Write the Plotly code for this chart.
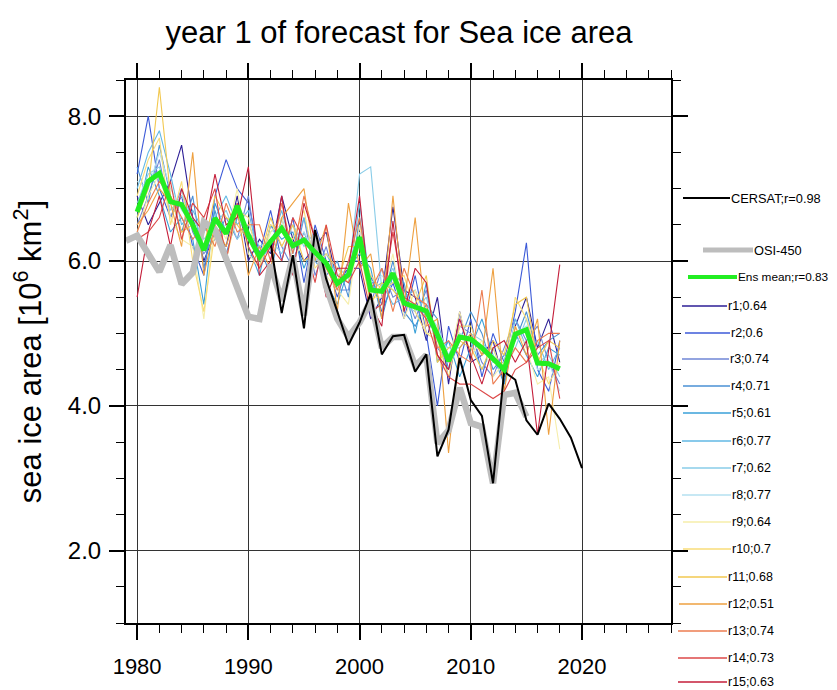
import plotly.graph_objects as go

# ---------------- data ----------------
osi_years = list(range(1979, 2016))
osi450 = [6.28, 6.35, 6.10, 5.85, 6.22, 5.68, 5.84, 6.54, 6.43, 6.03,
          5.62, 5.23, 5.20, 5.95, 5.45, 6.05, 5.25, 6.35, 5.65, 5.20,
          4.95, 5.15, 5.45, 4.80, 4.95, 4.95, 4.55, 4.70, 3.48, 3.66,
          4.25, 3.76, 3.71, 2.93, 4.15, 4.18, 3.85]

cersat_years = list(range(1992, 2021))
cersat = [6.25, 5.28, 6.08, 5.07, 6.43, 5.75, 5.30, 4.84, 5.15, 5.55,
          4.71, 4.96, 4.98, 4.47, 4.71, 3.30, 3.67, 4.66, 4.08, 3.86,
          2.93, 4.47, 4.36, 3.80, 3.60, 4.03, 3.82, 3.56, 3.14]

ens_years = list(range(1980, 2019))
ens_mean = [6.68, 7.10, 7.21, 6.82, 6.78, 6.50, 6.15, 6.59, 6.38, 6.76,
            6.35, 6.06, 6.27, 6.45, 6.21, 6.29, 6.12, 5.97, 5.69, 5.81,
            6.33, 5.60, 5.58, 5.83, 5.42, 5.37, 5.31, 4.98, 4.62, 4.95,
            4.92, 4.80, 4.66, 4.50, 4.99, 5.05, 4.59, 4.58, 4.51]

r1 = [6.9, 6.5, 6.8, 7.1, 7.6, 6.6, 6.0, 6.4, 6.2, 6.9,
      6.0, 6.3, 6.1, 6.9, 6.3, 6.0, 6.2, 6.4, 5.7, 5.9,
      5.9, 5.2, 5.5, 6.75, 5.6, 5.5, 4.9, 5.5, 4.3, 5.3,
      4.6, 4.7, 4.9, 4.3, 5.1, 5.5, 4.8, 5.2, 4.6]
r2 = [7.2, 8.0, 7.0, 6.6, 6.9, 6.2, 5.8, 6.9, 7.4, 7.0,
      6.8, 6.1, 6.7, 6.0, 6.6, 5.7, 6.5, 6.0, 5.5, 6.0,
      6.0, 5.8, 5.3, 5.7, 5.2, 5.8, 5.0, 4.0, 5.1, 4.6,
      5.2, 4.4, 5.0, 4.6, 5.3, 6.25, 4.5, 4.2, 4.9]
r3 = [6.5, 6.9, 7.4, 6.6, 7.0, 6.4, 6.1, 6.3, 6.6, 6.3,
      6.9, 5.9, 6.5, 6.2, 5.9, 6.6, 5.8, 6.2, 5.6, 5.6,
      6.5, 5.4, 5.9, 5.5, 5.6, 5.2, 5.6, 4.8, 4.6, 5.1,
      5.0, 4.6, 4.4, 4.8, 5.2, 4.9, 5.1, 4.6, 4.3]
r4 = [7.3, 6.8, 7.6, 6.9, 6.4, 6.9, 5.9, 6.7, 6.1, 6.6,
      6.4, 6.2, 5.8, 6.6, 6.0, 6.4, 6.0, 5.8, 6.0, 5.5,
      6.6, 5.7, 5.4, 6.0, 5.3, 5.1, 5.4, 5.2, 4.5, 4.9,
      5.3, 5.0, 4.5, 4.7, 4.9, 5.3, 4.7, 4.9, 5.0]
r5 = [6.6, 7.3, 6.9, 6.4, 6.6, 6.3, 5.4, 6.8, 6.4, 6.8,
      6.2, 5.8, 6.5, 6.3, 6.4, 5.9, 6.3, 5.7, 5.4, 5.9,
      6.1, 5.9, 5.2, 5.8, 5.7, 5.0, 5.7, 4.6, 4.9, 4.4,
      4.8, 5.2, 4.7, 4.3, 5.0, 4.7, 4.4, 4.8, 4.7]
r6 = [7.0, 7.5, 7.8, 7.2, 6.5, 6.7, 6.4, 6.6, 6.9, 6.5,
      6.7, 6.0, 6.2, 6.7, 6.1, 6.6, 6.0, 6.1, 5.8, 5.7,
      6.8, 5.6, 5.7, 5.4, 5.5, 5.6, 5.2, 5.0, 4.7, 5.0,
      4.9, 4.5, 4.8, 4.4, 5.2, 4.8, 4.9, 4.5, 4.8]
r7 = [6.8, 7.2, 7.3, 6.7, 6.9, 6.6, 6.3, 6.5, 6.7, 6.3,
      6.5, 6.2, 6.3, 6.1, 6.5, 6.2, 6.4, 5.9, 5.9, 5.8,
      7.2, 7.3, 5.6, 5.9, 5.4, 5.3, 5.5, 4.9, 4.8, 4.8,
      5.0, 4.9, 4.6, 4.6, 4.8, 5.2, 4.6, 4.7, 4.4]
r8 = [7.1, 7.0, 7.5, 7.0, 6.7, 6.5, 6.2, 6.4, 6.5, 6.6,
      6.4, 6.1, 6.4, 6.5, 6.2, 6.4, 6.1, 6.0, 5.8, 5.9,
      6.4, 5.7, 5.8, 5.6, 5.5, 5.4, 5.3, 5.1, 4.7, 5.0,
      4.9, 4.8, 4.7, 4.5, 5.0, 5.1, 4.5, 4.6, 4.2]
r9 = [6.4, 6.9, 7.2, 6.6, 6.3, 6.2, 5.2, 6.6, 6.3, 7.0,
      6.1, 5.9, 6.4, 6.6, 6.0, 6.3, 6.2, 5.8, 5.6, 5.4,
      6.5, 5.5, 5.5, 6.1, 5.2, 5.6, 5.0, 5.0, 4.6, 5.3,
      4.7, 4.9, 4.4, 4.6, 5.1, 4.8, 4.3, 4.4, 3.4]
r10 = [6.9, 7.4, 7.7, 6.5, 7.1, 6.0, 5.3, 6.4, 6.0, 6.7,
       6.6, 5.9, 6.5, 6.4, 6.3, 6.7, 5.9, 6.1, 5.9, 5.7,
       6.3, 5.8, 5.6, 5.7, 5.8, 5.3, 5.0, 4.9, 4.4, 5.1,
       5.1, 4.7, 4.8, 4.4, 5.5, 5.2, 4.7, 4.3, 4.6]
r11 = [6.6, 7.0, 8.4, 6.9, 6.4, 6.5, 6.2, 6.9, 6.6, 6.5,
       6.3, 6.0, 6.6, 6.2, 6.5, 6.0, 6.1, 5.9, 5.7, 6.2,
       6.2, 5.4, 5.7, 5.6, 5.4, 5.4, 5.8, 4.6, 4.8, 4.9,
       4.8, 4.5, 4.9, 4.7, 5.4, 5.5, 4.6, 4.9, 4.8]
r12 = [6.5, 6.7, 7.0, 6.8, 6.2, 7.5, 5.8, 6.5, 6.2, 6.7,
       5.8, 6.2, 5.9, 6.6, 6.8, 7.0, 6.0, 6.5, 5.3, 6.8,
       5.9, 6.1, 5.2, 6.9, 5.4, 6.6, 5.1, 5.2, 3.35, 4.8,
       5.0, 4.7, 5.9, 4.2, 5.1, 4.7, 5.2, 3.6, 4.9]
r13 = [6.4, 6.8, 7.1, 6.9, 6.6, 6.3, 6.5, 6.2, 6.8, 6.4,
       6.5, 6.5, 6.0, 6.8, 6.1, 6.9, 6.3, 5.9, 5.6, 6.0,
       6.6, 5.6, 5.9, 5.3, 5.9, 5.5, 5.4, 4.8, 4.9, 4.7,
       4.6, 5.6, 4.3, 4.5, 4.8, 4.6, 4.9, 5.0, 5.0]
r14 = [6.3, 6.4, 6.6, 7.1, 6.3, 6.8, 6.6, 7.0, 6.0, 6.8,
       6.2, 5.9, 6.2, 6.0, 6.6, 6.3, 5.7, 6.5, 5.8, 5.7,
       6.0, 5.3, 5.4, 6.4, 5.5, 5.4, 5.2, 4.7, 4.4, 4.3,
       4.3, 4.2, 4.1, 4.2, 4.5, 4.6, 4.8, 4.9, 4.1]
r15 = [5.5, 6.4, 6.9, 6.2, 7.0, 6.6, 6.4, 7.2, 6.5, 6.6,
       7.3, 5.8, 6.0, 6.9, 5.8, 6.8, 6.3, 5.5, 5.9, 5.9,
       6.9, 5.4, 5.1, 6.55, 5.3, 5.9, 5.7, 4.7, 4.5, 5.2,
       4.7, 4.3, 4.8, 4.9, 4.6, 4.9, 3.6, 4.8, 5.95]

member_names = ["r1", "r2", "r3", "r4", "r5", "r6", "r7", "r8",
                "r9", "r10", "r11", "r12", "r13", "r14", "r15"]
member_corr = ["0.64", "0.6", "0.74", "0.71", "0.61", "0.77", "0.62", "0.77",
               "0.64", "0.7", "0.68", "0.51", "0.74", "0.73", "0.63"]
members = [r1, r2, r3, r4, r5, r6, r7, r8, r9, r10, r11, r12, r13, r14, r15]

x_ticks = [1980, 1990, 2000, 2010, 2020]
y_ticks = [2.0, 4.0, 6.0, 8.0]

# ---------------- styles ----------------
member_colors = ["#2d1e96", "#3c5ad8", "#6f86d6", "#4a90d4", "#3aa0d8",
                 "#62b8e4", "#88cce8", "#b4e0f0", "#f6eeaa", "#f8dc78",
                 "#f2c850", "#eea040", "#ec7c50", "#dc4848", "#c41e3a"]
FONT = "Liberation Sans, Arial, Helvetica, sans-serif"

fig = go.Figure()
for name, vals, col in zip(member_names, members, member_colors):
    fig.add_trace(go.Scatter(x=ens_years, y=vals, mode="lines", name=name,
                             line=dict(color=col, width=1.1), showlegend=False))
fig.add_trace(go.Scatter(x=osi_years, y=osi450, mode="lines", name="OSI-450",
                         line=dict(color="#bdbdbd", width=6.5), showlegend=False))
fig.add_trace(go.Scatter(x=cersat_years, y=cersat, mode="lines", name="CERSAT",
                         line=dict(color="black", width=2), showlegend=False))
fig.add_trace(go.Scatter(x=ens_years, y=ens_mean, mode="lines", name="Ens mean",
                         line=dict(color="#22ee22", width=5), showlegend=False))

# page has an 8px body margin: work in screen pixels, convert to figure pixels
OFF = 8
SW, SH = 837, 690
W, H = SW - OFF, SH - OFF
PL, PR, PT, PB = 126, 671, 80, 623   # plot area in screen pixels


def px(x):
    return (x - PL) / (PR - PL)


def py(y):
    return (PB - y) / (PB - PT)


axis_common = dict(showline=True, linecolor="black", linewidth=2, mirror="allticks",
                   ticks="outside", ticklen=15, tickwidth=1.5, tickcolor="black",
                   showgrid=True, gridcolor="#333333", gridwidth=1, zeroline=False)

fig.update_xaxes(range=[1979, 2028], tickvals=x_ticks, ticktext=[str(v) for v in x_ticks],
                 tickfont=dict(family=FONT, size=22, color="black"), ticklabelstandoff=8,
                 minor=dict(dtick=2, tick0=1980, ticks="outside", ticklen=8,
                            tickcolor="black", tickwidth=1.2, showgrid=False),
                 **axis_common)
fig.update_yaxes(range=[1.0, 8.5], tickvals=y_ticks, ticktext=[f"{v:.1f}" for v in y_ticks],
                 tickfont=dict(family=FONT, size=24, color="black"), ticklabelstandoff=3,
                 minor=dict(dtick=0.5, tick0=0, ticks="outside", ticklen=8,
                            tickcolor="black", tickwidth=1.2, showgrid=False),
                 title=dict(text="sea ice area [10<sup>6</sup> km<sup>2</sup>]",
                            font=dict(family=FONT, size=31, color="black"), standoff=18),
                 **axis_common)

# manual legend (NCL-style)
legend_items = [
    ("CERSAT;r=0.98", "black", 2, 198, 683, 730, 12.8),
    ("OSI-450", "#bdbdbd", 5, 250, 703, 753, 12.8),
    ("Ens mean;r=0.83", "#22ee22", 4, 277, 688, 737, 11.8),
]
member_rows = [306, 333, 359, 386, 413, 441, 468, 495, 522, 549, 577, 604, 631, 658, 682]
member_x = [(682, 727), (685, 730), (682, 729), (683, 730), (683, 731), (682, 731),
            (682, 731), (682, 731), (683, 731), (683, 731), (678, 727), (679, 727),
            (678, 727), (678, 727), (678, 727)]
for nm, cr, col, yy, (x0, x1) in zip(member_names, member_corr, member_colors, member_rows, member_x):
    legend_items.append((f"{nm};{cr}", col, 1.3, yy, x0, x1, 12.5))

shapes = []
annotations = []
for label, col, wd, yy, x0, x1, fs in legend_items:
    shapes.append(dict(type="line", xref="paper", yref="paper",
                       x0=px(x0), x1=px(x1), y0=py(yy), y1=py(yy),
                       line=dict(color=col, width=wd)))
    annotations.append(dict(xref="paper", yref="paper", x=px(x1), y=py(yy),
                            xanchor="left", yanchor="middle", showarrow=False,
                            borderpad=0, text=label,
                            font=dict(family=FONT, size=fs, color="black")))

fig.update_layout(
    width=W, height=H,
    margin=dict(l=PL - OFF, r=SW - PR, t=PT - OFF, b=SH - PB, pad=0),
    paper_bgcolor="white", plot_bgcolor="white",
    title=dict(text="year 1 of forecast for Sea ice area", xref="container",
               x=(399 - OFF) / W, xanchor="center",
               yref="container", y=1 - (32 - OFF) / H, yanchor="middle",
               font=dict(family=FONT, size=31, color="black")),
    shapes=shapes, annotations=annotations, showlegend=False,
)

fig.write_html("out.html")
